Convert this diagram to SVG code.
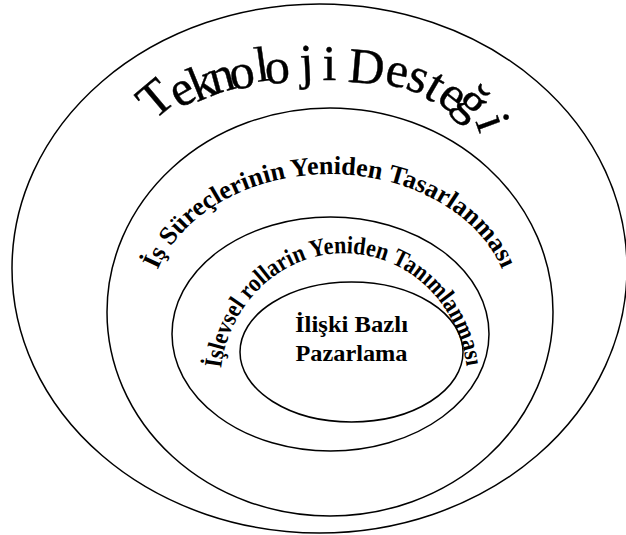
<svg xmlns="http://www.w3.org/2000/svg" width="626" height="535" viewBox="0 0 626 535">
<style>
.ring{fill:none;stroke:#000;stroke-width:1.5}
.t{font-family:"Liberation Serif","Times New Roman",serif;fill:#000}
.b{font-weight:bold}
.wa{stroke:#000;stroke-width:0.4}
</style>
<defs>
<path id="arc2" d="M149.7,300 A181,138 0 0 1 510.3,300"/>
<path id="arc3" d="M222.2,410 A124,132 0 1 1 465.8,410"/>
</defs>
<rect width="626" height="535" fill="#fff"/>
<g id="connectors"/>
<g id="teknoloji-destegi">
<ellipse class="ring" cx="319.5" cy="268.5" rx="307.5" ry="264.5"/>
<text class="t wa" font-size="50" x="153.9 179.6 196.5 213.2 232 257.2 265.9 300.4 322.4 336 347.3 383.5 404.3 421.7 435.2 453 475.2" y="120.8 109 102.2 94.4 90.2 82.1 84.2 79.3 80.3 80.3 81.7 83.9 88.2 95.8 100.5 104.3 121.3" rotate="-40 -30 -22 -15 -10 -8 -5 -3 0 0 5 12 20 30 38 45 70">Teknoloji Desteği</text>
</g>
<g id="is-surecleri">
<ellipse class="ring" cx="330" cy="312" rx="223" ry="204"/>
<text class="t b" font-size="26"><textPath href="#arc2" startOffset="31" textLength="416" lengthAdjust="spacingAndGlyphs">İş Süreçlerinin Yeniden Tasarlanması</textPath></text>
</g>
<g id="islevsel-roller">
<ellipse class="ring" cx="330.5" cy="334" rx="158.5" ry="117"/>
<text class="t b" font-size="25"><textPath href="#arc3" startOffset="42" textLength="366" lengthAdjust="spacingAndGlyphs">İşlevsel rollarin Yeniden Tanımlanması</textPath></text>
</g>
<g id="iliski-bazli-pazarlama">
<ellipse class="ring" cx="351.5" cy="352" rx="111.5" ry="70"/>
<text class="t b" font-size="23" text-anchor="middle" x="351.5" y="331.5" textLength="113" lengthAdjust="spacingAndGlyphs">İlişki Bazlı</text>
<text class="t b" font-size="23" text-anchor="middle" x="351.5" y="361" textLength="112" lengthAdjust="spacingAndGlyphs">Pazarlama</text>
</g>
</svg>
